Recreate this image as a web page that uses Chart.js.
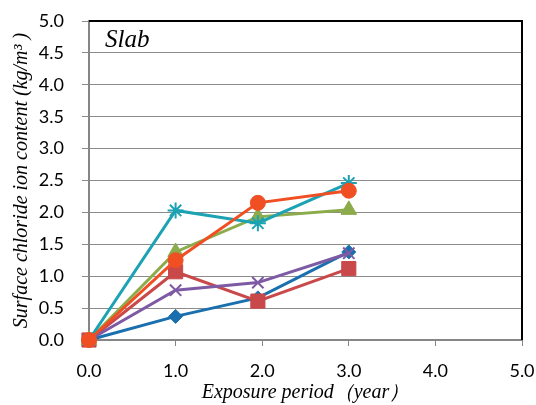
<!DOCTYPE html>
<html>
<head>
<meta charset="utf-8">
<script src="https://cdn.jsdelivr.net/npm/chart.js@4/dist/chart.umd.min.js"></script>
<style>
  html, body { margin: 0; padding: 0; background: #fff; }
  #wrap { width: 536px; height: 405px; }
</style>
</head>
<body>
<div id="wrap"><canvas id="chart" width="536" height="405"></canvas></div>
<script>
// exposure period (year) of each measurement
const years = [0, 1, 1.95, 3];

// surface chloride ion content (kg/m3), one array per series
const diamondSeries = [0, 0.37, 0.66, 1.38];
const squareSeries = [0, 1.07, 0.61, 1.12];
const triangleSeries = [0, 1.38, 1.93, 2.04];
const crossSeries = [0, 0.78, 0.9, 1.36];
const starSeries = [0, 2.03, 1.83, 2.46];
const circleSeries = [0, 1.25, 2.15, 2.34];

const xTicks = [0, 1, 2, 3, 4, 5];
const yTicks = [0, 0.5, 1, 1.5, 2, 2.5, 3, 3.5, 4, 4.5, 5];

const panelLabel = 'Slab';
const xTitle = 'Exposure period（year）';
const yTitle = 'Surface chloride ion content (kg/m³ )';

const toPoints = (vals) => vals.map((v, i) => ({ x: years[i], y: v }));

// Chart.js paints lower `order` on top, so later series get a lower order (like Excel)
function series(vals, color, style, radius, order) {
  return {
    data: toPoints(vals),
    order,
    showLine: true,
    clip: false,
    borderColor: color,
    backgroundColor: color,
    borderWidth: 3,
    pointStyle: style,
    pointRadius: radius,
    pointBorderColor: color,
    pointBackgroundColor: color,
    pointBorderWidth: style === 'star' || style === 'crossRot' ? 2 : 1,
  };
}

const frame = {
  id: 'frame',
  afterDraw(chart) {
    const { ctx, chartArea: a } = chart;
    ctx.save();
    ctx.strokeStyle = '#000';
    ctx.lineWidth = 2;
    ctx.beginPath();
    ctx.moveTo(a.left, a.top);
    ctx.lineTo(a.right, a.top);
    ctx.lineTo(a.right, a.bottom);
    ctx.stroke();
    ctx.fillStyle = '#000';
    ctx.font = 'italic 25px "Liberation Serif"';
    ctx.textBaseline = 'alphabetic';
    ctx.fillText(panelLabel, a.left + 16, a.top + 26);
    ctx.restore();
  },
};

const tickFont = { family: 'Lato', size: 18 };
const titleFont = { family: 'Liberation Serif', size: 20, style: 'italic' };

new Chart(document.getElementById('chart'), {
  type: 'scatter',
  data: {
    datasets: [
      series(diamondSeries, '#1a6fae', 'rectRot', 7, 6),
      series(squareSeries, '#c9484a', 'rect', 10, 5),
      series(triangleSeries, '#8cab4a', 'triangle', 9, 4),
      series(crossSeries, '#7e5aa4', 'crossRot', 8, 3),
      series(starSeries, '#1ba2b3', 'star', 8, 2),
      series(circleSeries, '#f04e23', 'circle', 7.5, 1),
    ],
  },
  options: {
    responsive: false,
    animation: false,
    layout: { padding: { top: 21, right: 14, left: 0, bottom: 0 } },
    plugins: { legend: { display: false }, tooltip: { enabled: false } },
    scales: {
      x: {
        type: 'linear',
        min: 0,
        max: 5,
        afterBuildTicks: (s) => { s.ticks = xTicks.map((v) => ({ value: v })); },
        afterFit: (s) => { s.height = 65; s.paddingLeft = 0; s.paddingRight = 0; },
        ticks: { font: tickFont, color: '#000', padding: 14, maxRotation: 0, callback: (v) => v.toFixed(1) },
        grid: { drawOnChartArea: false, drawTicks: true, tickLength: 6, color: '#868686', lineWidth: 1 },
        border: { color: '#868686', width: 2 },
        title: { display: true, text: xTitle, font: titleFont, color: '#000', padding: { top: 0, bottom: 0 } },
      },
      y: {
        type: 'linear',
        min: 0,
        max: 5,
        afterBuildTicks: (s) => { s.ticks = yTicks.map((v) => ({ value: v })); },
        afterFit: (s) => { s.width = 89; s.paddingTop = 0; s.paddingBottom = 0; },
        ticks: { font: tickFont, color: '#000', padding: 18, callback: (v) => v.toFixed(1) },
        grid: { color: '#8c8c8c', lineWidth: 1, drawTicks: true, tickLength: 7 },
        border: { color: '#868686', width: 2 },
        title: { display: true, text: yTitle, font: titleFont, color: '#000', padding: { top: 10, bottom: 0 } },
      },
    },
  },
  plugins: [frame],
});
</script>
</body>
</html>
